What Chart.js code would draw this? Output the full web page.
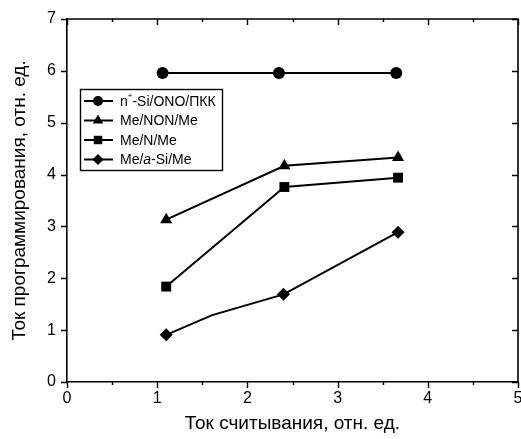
<!DOCTYPE html>
<html>
<head>
<meta charset="utf-8">
<script src="https://cdn.jsdelivr.net/npm/chart.js@4/dist/chart.umd.min.js"></script>
<style>
  html, body { margin: 0; padding: 0; background: #fff; overflow: hidden; }
  #wrap { width: 521px; height: 439px; overflow: hidden; }
</style>
</head>
<body>
<div id="wrap"><canvas id="chart" width="525" height="439"></canvas></div>
<script>
// series data
const seriesNames = ['n+-Si/ONO/ПКК', 'Me/NON/Me', 'Me/N/Me', 'Me/a-Si/Me'];
const xOno = [1.06, 2.35, 3.65];
const yOno = [5.96, 5.96, 5.96];
const xNon = [1.10, 2.41, 3.67];
const yNon = [3.13, 4.17, 4.33];
const xN = [1.10, 2.41, 3.67];
const yN = [1.84, 3.76, 3.94];
const xASi = [1.10, 1.61, 2.40, 3.67];
const yASi = [0.91, 1.29, 1.69, 2.89];
const aSiMarked = [true, false, true, true];

const xTicks = [0, 1, 2, 3, 4, 5];
const yTicks = [0, 1, 2, 3, 4, 5, 6, 7];
const xTitle = 'Ток считывания, отн. ед.';
const yTitle = 'Ток программирования, отн. ед.';

const FONT = '"Liberation Sans", Arial, sans-serif';

function pts(xs, ys) {
    return xs.map((x, i) => ({ x: x, y: ys[i] }));
}

const styles = [
    { pointStyle: 'circle', radius: 6, legendR: 5 },
    { pointStyle: 'triangle', radius: 7, legendR: 6 },
    { pointStyle: 'rect', radius: 7, legendR: 6 },
    { pointStyle: 'rectRot', radius: 6.5, legendR: 5.5 }
];

function makeSet(i, data, radius) {
    return {
        label: seriesNames[i],
        data: data,
        borderColor: '#000',
        backgroundColor: '#000',
        borderWidth: 2,
        pointStyle: styles[i].pointStyle,
        pointRadius: radius !== undefined ? radius : styles[i].radius,
        pointBorderWidth: 0,
        tension: 0
    };
}

// draws mirrored ticks, minor ticks and the top/right frame
const frameTicks = {
    id: 'frameTicks',
    afterDraw(chart) {
        const ctx = chart.ctx;
        const a = chart.chartArea;
        const xs = chart.scales.x, ys = chart.scales.y;
        ctx.save();
        ctx.strokeStyle = '#000';
        ctx.lineWidth = 1.6;
        ctx.beginPath();
        ctx.moveTo(a.left, a.top); ctx.lineTo(a.right, a.top); ctx.lineTo(a.right, a.bottom);
        ctx.stroke();
        ctx.lineWidth = 1.4;
        ctx.beginPath();
        for (let v = 0; v <= 5.001; v += 0.5) {
            const px = Math.round(xs.getPixelForValue(v)) + 0.5;
            const major = Math.abs(v - Math.round(v)) < 1e-6;
            const len = major ? 6 : 3;
            ctx.moveTo(px, a.bottom); ctx.lineTo(px, a.bottom + len);
            ctx.moveTo(px, a.top); ctx.lineTo(px, a.top + len);
        }
        yTicks.forEach(v => {
            const py = Math.round(ys.getPixelForValue(v)) + 0.5;
            ctx.moveTo(a.left, py); ctx.lineTo(a.left - 6, py);
            ctx.moveTo(a.right, py); ctx.lineTo(a.right - 6, py);
        });
        ctx.stroke();
        ctx.restore();
    }
};

// legend with superscript / italic parts
const legendRich = [
    [{ t: 'n' }, { t: '+', sup: true }, { t: '-Si/ONO/ПКК' }],
    [{ t: 'Me/NON/Me' }],
    [{ t: 'Me/N/Me' }],
    [{ t: 'Me/' }, { t: 'a', it: true }, { t: '-Si/Me' }]
];

const boxLegend = {
    id: 'boxLegend',
    afterDraw(chart) {
        const ctx = chart.ctx;
        const left = 80, top = 89, w = 142, h = 81;
        ctx.save();
        ctx.strokeStyle = '#000';
        ctx.lineWidth = 1.4;
        ctx.strokeRect(left + 0.5, top + 0.5, w, h);
        legendRich.forEach((parts, i) => {
            const y = top + 12 + i * 19.5;
            ctx.strokeStyle = '#000';
            ctx.lineWidth = 2;
            ctx.beginPath();
            ctx.moveTo(left + 4, y); ctx.lineTo(left + 33, y);
            ctx.stroke();
            ctx.fillStyle = '#000';
            Chart.helpers.drawPoint(ctx, {
                pointStyle: styles[i].pointStyle,
                radius: styles[i].legendR,
                rotation: 0,
                borderWidth: 0
            }, left + 18, y);
            let tx = left + 40;
            ctx.textBaseline = 'middle';
            ctx.textAlign = 'left';
            parts.forEach(p => {
                if (p.sup) {
                    ctx.font = '8px ' + FONT;
                    ctx.fillText(p.t, tx, y - 5);
                } else {
                    ctx.font = (p.it ? 'italic ' : '') + '14px ' + FONT;
                    ctx.fillText(p.t, tx, y + 1);
                }
                tx += ctx.measureText(p.t).width;
            });
        });
        ctx.restore();
    }
};

new Chart(document.getElementById('chart'), {
    type: 'line',
    data: {
        datasets: [
            makeSet(0, pts(xOno, yOno)),
            makeSet(1, pts(xNon, yNon)),
            makeSet(2, pts(xN, yN)),
            makeSet(3, pts(xASi, yASi), aSiMarked.map(m => m ? styles[3].radius : 0))
        ]
    },
    options: {
        responsive: false,
        animation: false,
        clip: false,
        layout: { padding: { top: 19, right: 3, left: 0, bottom: 0 } },
        plugins: {
            legend: { display: false },
            tooltip: { enabled: false }
        },
        scales: {
            x: {
                type: 'linear',
                min: 0, max: 5,
                afterBuildTicks: s => { s.ticks = xTicks.map(v => ({ value: v })); },
                afterFit: s => { s.height = 57; s.paddingRight = 0; s.paddingLeft = 0; },
                grid: { display: false, drawTicks: false },
                border: { display: true, color: '#000', width: 1.6 },
                ticks: { color: '#000', font: { family: FONT, size: 16 }, padding: 7, maxRotation: 0 },
                title: { display: true, text: xTitle, color: '#000', font: { family: FONT, size: 19 }, padding: { top: 4 } }
            },
            y: {
                type: 'linear',
                min: 0, max: 7,
                afterBuildTicks: s => { s.ticks = yTicks.map(v => ({ value: v })); },
                afterFit: s => { s.width = 67; s.paddingTop = 0; s.paddingBottom = 0; },
                grid: { display: false, drawTicks: false },
                border: { display: true, color: '#000', width: 1.6 },
                ticks: { color: '#000', font: { family: FONT, size: 16 }, padding: 11 },
                title: { display: true, text: yTitle, color: '#000', font: { family: FONT, size: 19 }, padding: { top: 8, bottom: 0 } }
            }
        }
    },
    plugins: [frameTicks, boxLegend]
});
</script>
</body>
</html>
